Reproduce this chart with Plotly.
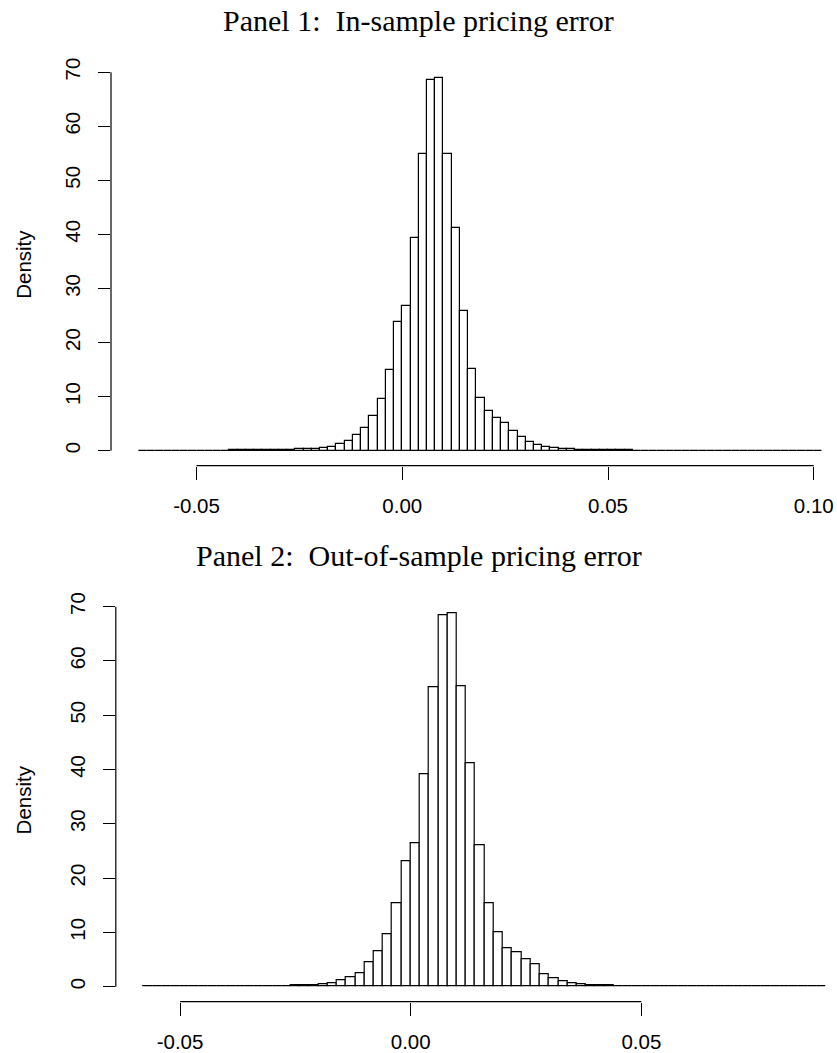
import plotly.graph_objects as go

# ---------------- data ----------------
bin_width = 0.002

p1_first_edge = -0.064
p1_density = [
    0.02, 0.02, 0.02, 0.02, 0.03, 0.03, 0.03, 0.04, 0.04, 0.05,
    0.05, 0.06, 0.07, 0.08, 0.09, 0.10, 0.12, 0.15, 0.18, 0.25,
    0.30, 0.37, 0.55, 0.73, 1.16, 1.84, 2.9, 4.25, 6.4, 9.6,
    15.0, 23.8,
    26.8, 39.3, 54.8, 68.6, 69.0, 54.8, 41.1, 25.9, 15.2, 9.7,
    7.3, 6.1, 5.2, 3.7, 2.6, 1.65, 1.0, 0.66, 0.46, 0.35,
    0.25, 0.20, 0.15, 0.12, 0.10, 0.08, 0.07, 0.06, 0.05, 0.05,
    0.04,
    0.03, 0.03, 0.03, 0.03, 0.03, 0.03, 0.03, 0.03, 0.03, 0.03,
    0.02, 0.02, 0.02, 0.02, 0.02, 0.02, 0.02, 0.02, 0.02, 0.02,
]

p2_first_edge = -0.058
p2_density = [
    0.02, 0.02, 0.02, 0.03, 0.03, 0.03, 0.04, 0.04, 0.05, 0.05,
    0.06, 0.07, 0.08, 0.10, 0.12, 0.15, 0.20, 0.24, 0.30, 0.49,
    0.67, 1.28, 1.77, 2.5, 4.5, 6.5, 9.7, 15.4, 23.2,
    26.5, 39.2, 55.2, 68.4, 68.8, 55.4, 41.1, 26.1, 15.3, 10.0,
    7.07, 6.3, 5.06, 4.15, 2.26, 1.59, 0.92, 0.61, 0.43, 0.24,
    0.20, 0.18, 0.15, 0.12, 0.10, 0.09, 0.10, 0.06, 0.05, 0.07,
    0.04,
    0.03, 0.03, 0.03, 0.03, 0.03, 0.03, 0.03, 0.02, 0.02, 0.02,
    0.02, 0.02, 0.02, 0.02,
]

p1_title = "Panel 1:\u00a0 In-sample pricing error"
p2_title = "Panel 2:\u00a0 Out-of-sample pricing error"
y_label = "Density"

p1_xticks = [-0.05, 0.00, 0.05, 0.10]
p1_xticklabels = ["-0.05", "0.00", "0.05", "0.10"]
p2_xticks = [-0.05, 0.00, 0.05]
p2_xticklabels = ["-0.05", "0.00", "0.05"]
y_ticks = [0, 10, 20, 30, 40, 50, 60, 70]
y_ticklabels = ["0", "10", "20", "30", "40", "50", "60", "70"]

# ---------------- figure ----------------
W, H = 837, 1053
sans = "Liberation Sans, Arial, Helvetica, sans-serif"
serif = "Liberation Serif, Times New Roman, serif"
LW = 1.2
TICK_FS = 20.5


def edges(first, n):
    return [round(first + i * bin_width, 4) for i in range(n)]


fig = go.Figure()
fig.add_trace(go.Bar(
    x=edges(p1_first_edge, len(p1_density)), y=p1_density,
    width=bin_width, offset=0,
    marker=dict(color="white", line=dict(color="black", width=LW)),
    xaxis="x", yaxis="y", showlegend=False, hoverinfo="x+y"))
fig.add_trace(go.Bar(
    x=edges(p2_first_edge, len(p2_density)), y=p2_density,
    width=bin_width, offset=0,
    marker=dict(color="white", line=dict(color="black", width=LW)),
    xaxis="x2", yaxis="y2", showlegend=False, hoverinfo="x+y"))

common_x = dict(showgrid=False, zeroline=False, showline=False,
                ticks="outside", ticklen=13, tickwidth=LW, tickcolor="black",
                tickfont=dict(family=sans, size=TICK_FS, color="black"),
                ticklabelstandoff=9, fixedrange=True)
common_y = dict(showgrid=False, zeroline=False, showline=False,
                ticks="outside", ticklen=12, tickwidth=LW, tickcolor="black",
                tickfont=dict(family=sans, size=TICK_FS, color="black"),
                tickangle=-90, ticklabelstandoff=10,
                tickvals=y_ticks, ticktext=y_ticklabels, fixedrange=True)

fig.update_layout(
    width=W, height=H,
    margin=dict(l=0, r=0, t=0, b=0),
    paper_bgcolor="white", plot_bgcolor="white",
    bargap=0,
    xaxis=dict(common_x, domain=[111 / W, 1.0], anchor="y",
               range=[(111 - 402.3) / 4115, (837 - 402.3) / 4115],
               tickvals=p1_xticks, ticktext=p1_xticklabels),
    yaxis=dict(common_y, domain=[1 - 462.3 / H, 1 - 57.3 / H], anchor="x",
               range=[-2.76, 71.7]),
    xaxis2=dict(common_x, domain=[115.8 / W, 1.0], anchor="y2",
                range=[(115.8 - 410.7) / 4613, (837 - 410.7) / 4613],
                tickvals=p2_xticks, ticktext=p2_xticklabels),
    yaxis2=dict(common_y, domain=[1 - 1001.3 / H, 1 - 595.6 / H], anchor="x2",
                range=[-2.75, 71.55]),
)

# R-style axis lines spanning only the tick range
line = dict(color="black", width=LW)
fig.add_shape(type="line", xref="x", yref="y domain",
              x0=p1_xticks[0], x1=p1_xticks[-1], y0=0, y1=0, line=line)
fig.add_shape(type="line", xref="x domain", yref="y",
              x0=0, x1=0, y0=y_ticks[0], y1=y_ticks[-1], line=line)
fig.add_shape(type="line", xref="x2", yref="y2 domain",
              x0=p2_xticks[0], x1=p2_xticks[-1], y0=0, y1=0, line=line)
fig.add_shape(type="line", xref="x2 domain", yref="y2",
              x0=0, x1=0, y0=y_ticks[0], y1=y_ticks[-1], line=line)

# titles
fig.add_annotation(text=p1_title, xref="paper", yref="paper",
                   x=0.5, y=1 - 15 / H, xanchor="center", yanchor="middle",
                   showarrow=False, font=dict(family=serif, size=30, color="black"))
fig.add_annotation(text=p2_title, xref="paper", yref="paper",
                   x=0.5, y=1 - 553 / H, xanchor="center", yanchor="middle",
                   showarrow=False, font=dict(family=serif, size=30, color="black"))

# y axis labels
for yr in ["y domain", "y2 domain"]:
    fig.add_annotation(text=y_label, xref="paper", yref=yr,
                       x=23.5 / W, y=0.5, xanchor="center", yanchor="middle",
                       textangle=-90, showarrow=False,
                       font=dict(family=sans, size=TICK_FS, color="black"))

fig.write_html("out.html")
